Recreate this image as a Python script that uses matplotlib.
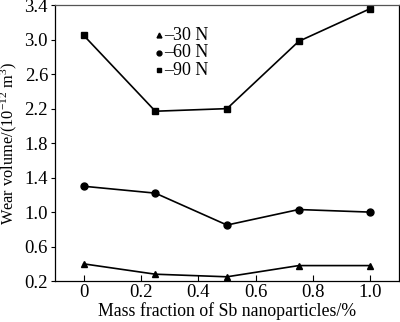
import matplotlib
matplotlib.use("Agg")
import matplotlib.pyplot as plt

plt.rcParams['font.family'] = ['Liberation Serif', 'DejaVu Serif']
plt.rcParams['mathtext.fontset'] = 'custom'
plt.rcParams['mathtext.rm'] = 'Liberation Serif'
plt.rcParams['mathtext.it'] = 'Liberation Serif:italic'

mass_fraction = [0, 0.25, 0.5, 0.75, 1.0]
wear_30N = [0.40, 0.28, 0.25, 0.38, 0.38]
wear_60N = [1.30, 1.22, 0.85, 1.03, 1.00]
wear_90N = [3.05, 2.17, 2.20, 2.98, 3.36]
series_labels = ["30 N", "60 N", "90 N"]
x_ticks = [0, 0.2, 0.4, 0.6, 0.8, 1.0]
x_ticklabels = ["0", "0.2", "0.4", "0.6", "0.8", "1.0"]
y_ticks = [0.2, 0.6, 1.0, 1.4, 1.8, 2.2, 2.6, 3.0, 3.4]

fig = plt.figure(figsize=(4.0, 3.22), dpi=100)
ax = fig.add_axes([0.1375, 0.127, 0.86, 0.857])

markers = ["^", "o", "s"]
for ys, m in zip([wear_30N, wear_60N, wear_90N], markers):
    ax.plot(mass_fraction, ys, color="black", lw=1.2, marker=m, ms=5, clip_on=False)

ax.set_xlim(-0.1, 1.1)
ax.set_ylim(0.2, 3.4)
ax.set_xticks(x_ticks)
ax.set_xticklabels(x_ticklabels)
ax.set_yticks(y_ticks)
ax.set_yticklabels([f"{v:.1f}" for v in y_ticks])
ax.tick_params(axis="x", direction="in", length=4, width=0.8, labelsize=13.5, pad=2)
ax.tick_params(axis="y", direction="out", length=3, width=0.8, labelsize=13.5, pad=2)
for s in ax.spines.values():
    s.set_linewidth(0.9)
ax.spines["top"].set_color("#555555")

ax.set_xlabel("Mass fraction of Sb nanoparticles/%", fontsize=12.8, labelpad=1)
ax.set_ylabel("Wear volume/(10$^{-12}$ m$^{3}$)", fontsize=11.8, labelpad=4)

# Compact key: marker followed by a dash and the load label
key_rows = [0.891, 0.828, 0.764]
for m, lab, yk in zip(markers, series_labels, key_rows):
    ax.plot([0.302], [yk], ls="none", marker=m, color="black", ms=3.5,
            transform=ax.transAxes)
    ax.text(0.318, yk, "\u2013" + lab, transform=ax.transAxes, fontsize=13,
            ha="left", va="center")

fig.savefig("out.png", dpi=100)
